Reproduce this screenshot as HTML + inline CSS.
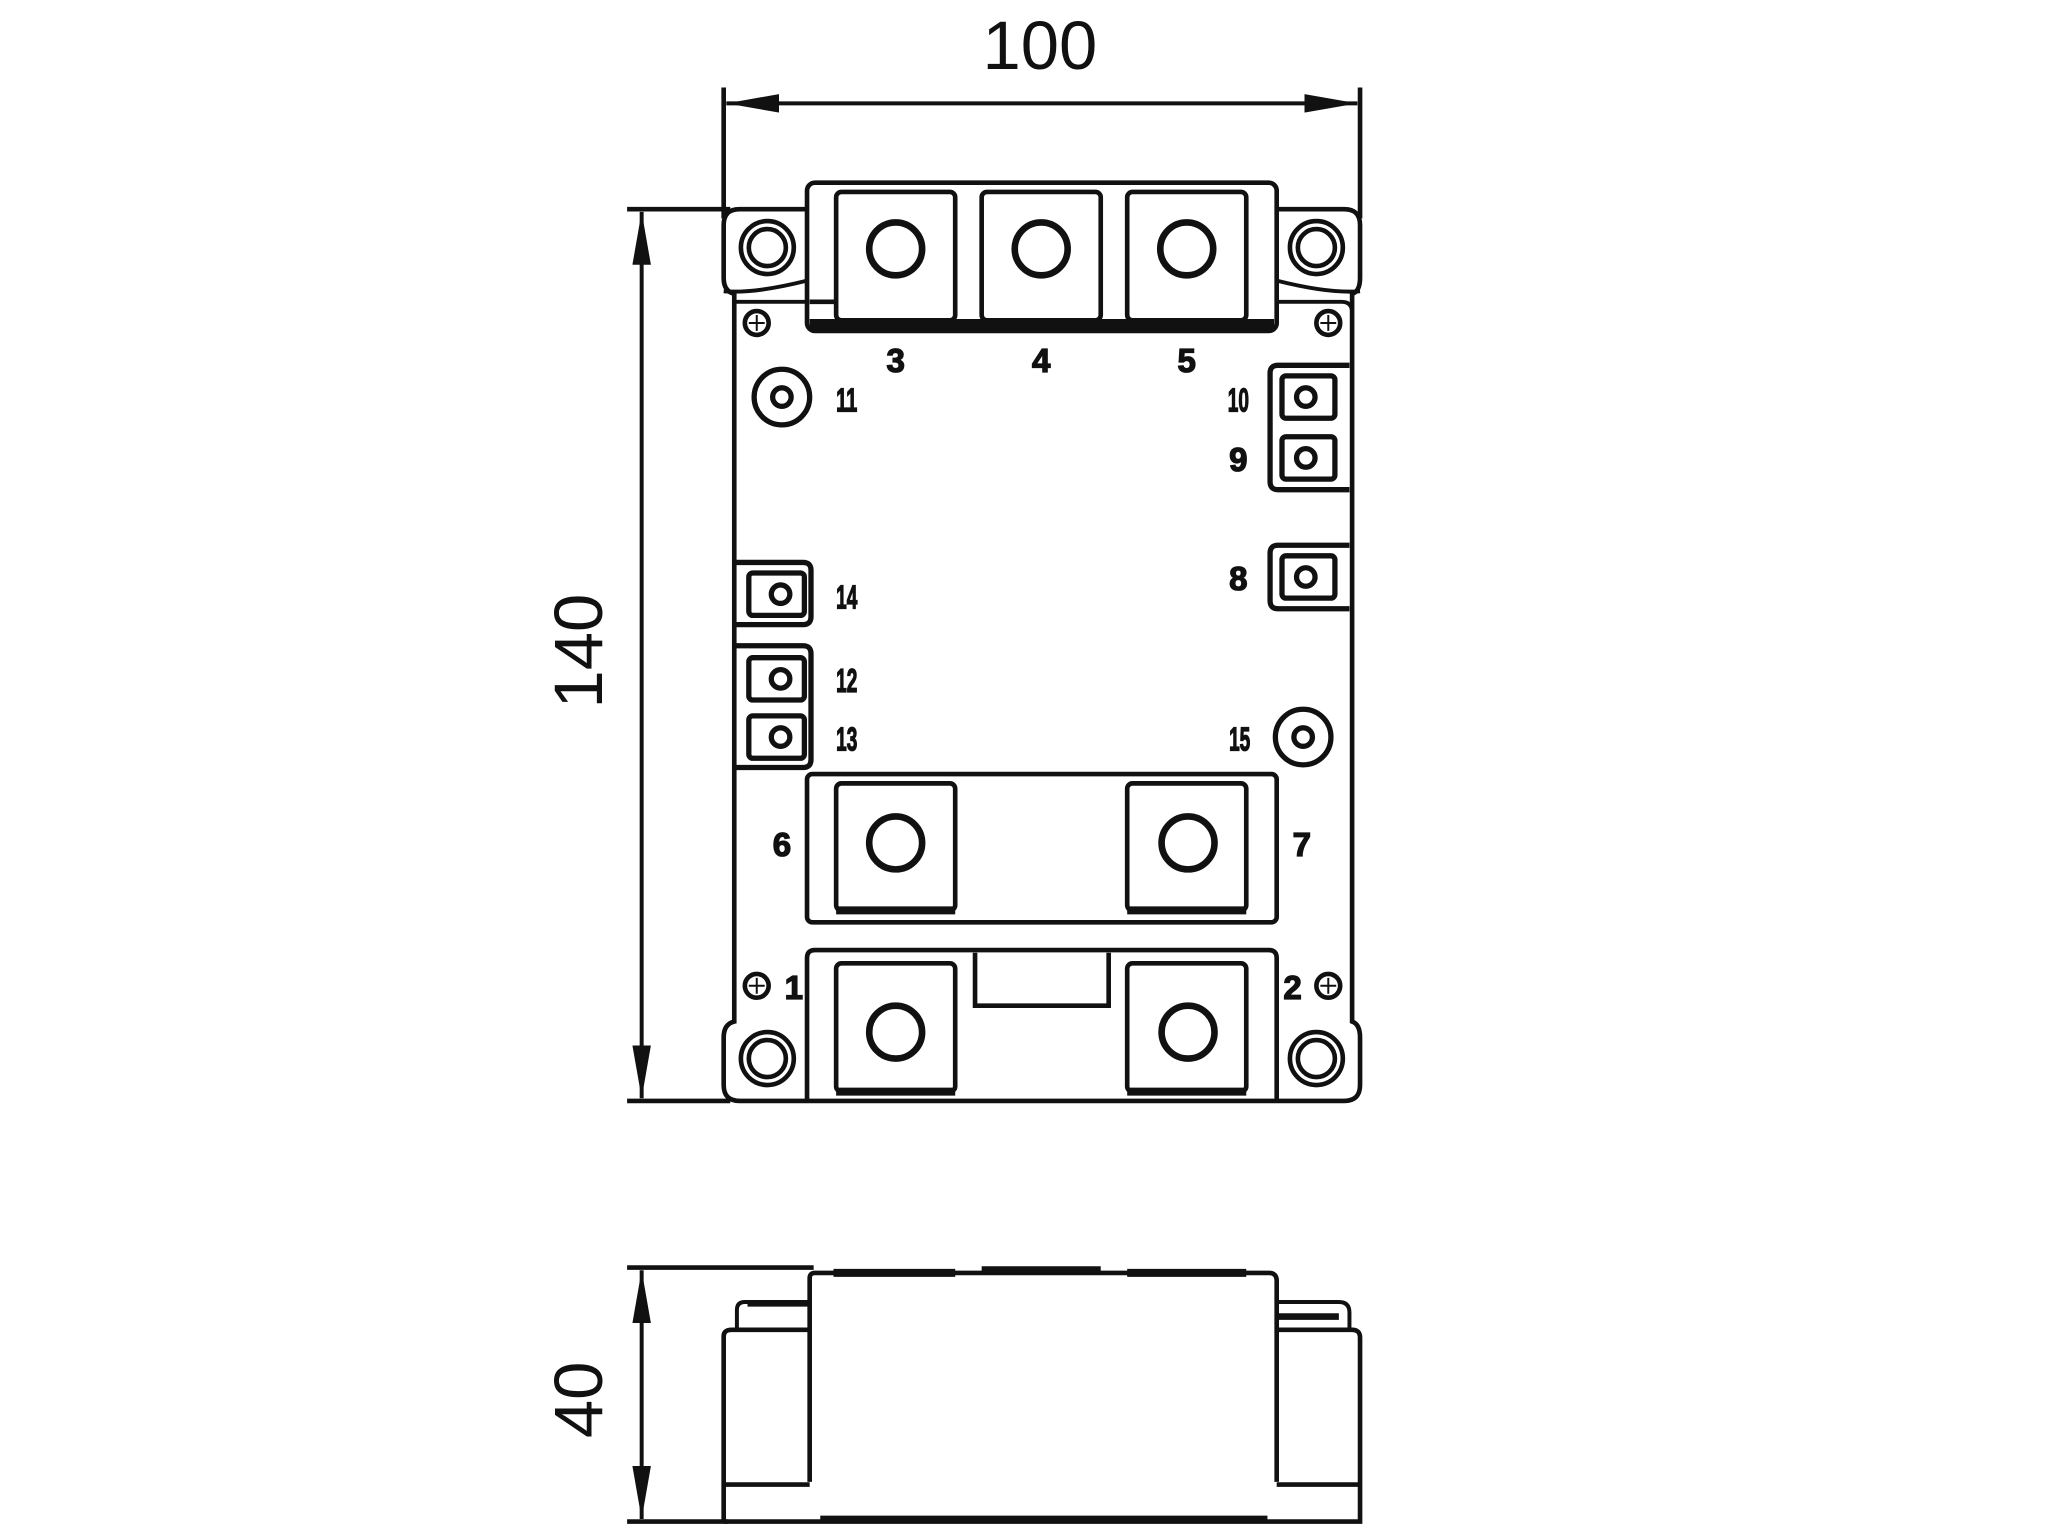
<!DOCTYPE html>
<html><head><style>html,body{margin:0;padding:0;background:#fff}svg{display:block}</style></head>
<body>
<svg width="2048" height="1535" viewBox="0 0 1548 1160" xmlns="http://www.w3.org/2000/svg">
<defs>
<marker id="ar" viewBox="0 0 40 14" refX="40" refY="7" markerWidth="40" markerHeight="14" markerUnits="userSpaceOnUse" orient="auto-start-reverse"><path d="M0,0 L40,7 L0,14 Z" fill="#111"/></marker>
</defs>
<g fill="none" stroke="#111" stroke-width="3.5">
<!-- dimension 100 -->
<line x1="547" y1="66" x2="547" y2="165"/>
<line x1="1028" y1="66" x2="1028" y2="165"/>
<line x1="549" y1="78" x2="1026" y2="78" marker-start="url(#ar)" marker-end="url(#ar)" stroke-width="3"/>
<!-- dimension 140 -->
<line x1="474" y1="158" x2="552" y2="158"/>
<line x1="474" y1="832" x2="552" y2="832"/>
<line x1="485" y1="160" x2="485" y2="830" marker-start="url(#ar)" marker-end="url(#ar)" stroke-width="3"/>
<!-- body outline -->
<path d="M610,158 H559 Q547,158 547,170 V210 Q547,220 555,222 V772 Q547,774 547,784 V820 Q547,832 559,832 H1016 Q1028,832 1028,820 V784 Q1028,774 1022,772 V222 Q1028,220 1028,210 V170 Q1028,158 1016,158 H965"/>
<path d="M555,228 Q555,228 563,228 H610 M965,228 H1014 Q1022,228 1022,236" stroke-width="3"/>
<path d="M547,220 Q570,222 610,212 M1028,220 Q1005,222 965,212" stroke-width="3"/>
<!-- top block -->
<rect x="610" y="138" width="355" height="112" rx="6"/>
<rect x="632" y="145" width="90" height="97" rx="4"/>
<rect x="742" y="145" width="90" height="97" rx="4"/>
<rect x="852" y="145" width="90" height="97" rx="4"/>
<line x1="612" y1="245" x2="963" y2="245" stroke-width="8"/>
<line x1="612" y1="228" x2="632" y2="228"/>
<circle cx="677" cy="188" r="20" stroke-width="5"/>
<circle cx="787" cy="188" r="20" stroke-width="5"/>
<circle cx="897" cy="188" r="20" stroke-width="5"/>
<!-- corner holes -->
<circle cx="580" cy="187" r="20"/><circle cx="580" cy="187" r="14"/>
<circle cx="995" cy="187" r="20"/><circle cx="995" cy="187" r="14"/>
<circle cx="580" cy="800" r="20"/><circle cx="580" cy="800" r="14"/>
<circle cx="995" cy="800" r="20"/><circle cx="995" cy="800" r="14"/>
<!-- screws -->
<g stroke-width="3.5"><circle cx="572" cy="244" r="9"/><circle cx="1004" cy="244" r="9"/><circle cx="572" cy="745" r="9"/><circle cx="1004" cy="745" r="9"/></g>
<g stroke-width="1.5"><path d="M566,244H578M572,238V250M998,244H1010M1004,238V250M566,745H578M572,739V751M998,745H1010M1004,739V751"/></g>
<!-- 11 and 15 -->
<circle cx="591" cy="300" r="21" stroke-width="4"/><circle cx="591" cy="300" r="7" stroke-width="4"/>
<circle cx="985" cy="557" r="21" stroke-width="4"/><circle cx="985" cy="557" r="7" stroke-width="4"/>
<!-- right pins -->
<path d="M1020,276 H966 Q960,276 960,282 V364 Q960,370 966,370 H1020" stroke-width="4"/>
<path d="M1020,412 H966 Q960,412 960,418 V454 Q960,460 966,460 H1020" stroke-width="4"/>
<rect x="969" y="284" width="40" height="32" rx="3" stroke-width="4"/><circle cx="987" cy="300" r="7" stroke-width="4"/>
<rect x="969" y="330" width="40" height="32" rx="3" stroke-width="4"/><circle cx="987" cy="346" r="7" stroke-width="4"/>
<rect x="969" y="420" width="40" height="32" rx="3" stroke-width="4"/><circle cx="987" cy="436" r="7" stroke-width="4"/>
<!-- left pins -->
<path d="M555,425 H607 Q613,425 613,431 V466 Q613,472 607,472 H555" stroke-width="4"/>
<path d="M555,488 H607 Q613,488 613,494 V574 Q613,580 607,580 H555" stroke-width="4"/>
<rect x="566" y="433" width="42" height="32" rx="3" stroke-width="4"/><circle cx="590" cy="449" r="7" stroke-width="4"/>
<rect x="566" y="497" width="42" height="32" rx="3" stroke-width="4"/><circle cx="590" cy="513" r="7" stroke-width="4"/>
<rect x="566" y="541" width="42" height="32" rx="3" stroke-width="4"/><circle cx="590" cy="557" r="7" stroke-width="4"/>
<!-- middle block -->
<rect x="610" y="585" width="355" height="112" rx="4"/>
<rect x="632" y="592" width="90" height="96" rx="4"/>
<rect x="852" y="592" width="90" height="96" rx="4"/>
<line x1="632" y1="688" x2="722" y2="688" stroke-width="6"/>
<line x1="852" y1="688" x2="942" y2="688" stroke-width="6"/>
<circle cx="677" cy="637" r="20" stroke-width="5"/>
<circle cx="898" cy="637" r="20" stroke-width="5"/>
<!-- bottom block -->
<path d="M610,832 V724 Q610,718 616,718 H959 Q965,718 965,724 V832"/>
<rect x="632" y="728" width="90" height="97" rx="4"/>
<rect x="852" y="728" width="90" height="97" rx="4"/>
<line x1="632" y1="825" x2="722" y2="825" stroke-width="6"/>
<line x1="852" y1="825" x2="942" y2="825" stroke-width="6"/>
<path d="M737,720 V760 H838 V720"/>
<circle cx="677" cy="780" r="20" stroke-width="5"/>
<circle cx="898" cy="780" r="20" stroke-width="5"/>
<!-- side view dimension 40 -->
<line x1="474" y1="958" x2="615" y2="958"/>
<line x1="474" y1="1150" x2="550" y2="1150"/>
<line x1="485" y1="960" x2="485" y2="1148" marker-start="url(#ar)" marker-end="url(#ar)" stroke-width="3"/>
<!-- side body -->
<path d="M612,1120 V966 Q612,962 616,962 H959 Q965,962 965,968 V1120"/>
<path d="M630,962 H722 M742,960 H832 M852,962 H942" stroke-width="6"/>
<path d="M547,1150 V1010 Q547,1005 553,1005 H612 M965,1005 H1022 Q1028,1005 1028,1011 V1150 H547"/>
<path d="M547,1122 H612 M965,1122 H1028"/>
<path d="M557,1005 V990 Q557,984 563,984 H612 M965,984 H1012 Q1020,984 1020,992 V1005" stroke-width="3"/>
<path d="M565,985 H612 M965,995 H1012" stroke-width="5"/>
<line x1="620" y1="1148" x2="958" y2="1148" stroke-width="5"/>
</g>
<g font-family="Liberation Sans, sans-serif" fill="#111" text-anchor="middle">
<text x="786" y="52" font-size="52">100</text>
<text transform="translate(455,492) rotate(-90)" font-size="52">140</text>
<text transform="translate(455,1058) rotate(-90)" font-size="52">40</text>
</g>
<g font-family="Liberation Sans Narrow, Liberation Sans, sans-serif" font-weight="bold" fill="#111" text-anchor="middle" font-size="25" stroke="#111" stroke-width="1">
<text x="677" y="281">3</text><text x="787" y="281">4</text><text x="897" y="281">5</text>
<text x="640" y="311" textLength="16" lengthAdjust="spacingAndGlyphs">11</text>
<text x="936" y="311" textLength="16" lengthAdjust="spacingAndGlyphs">10</text>
<text x="936" y="356">9</text>
<text x="936" y="446">8</text>
<text x="640" y="460" textLength="16" lengthAdjust="spacingAndGlyphs">14</text>
<text x="640" y="523" textLength="16" lengthAdjust="spacingAndGlyphs">12</text>
<text x="640" y="567" textLength="16" lengthAdjust="spacingAndGlyphs">13</text>
<text x="937" y="567" textLength="16" lengthAdjust="spacingAndGlyphs">15</text>
<text x="591" y="647">6</text><text x="984" y="647">7</text>
<text x="600" y="755">1</text><text x="977" y="755">2</text>
</g>
</svg>
</body></html>
